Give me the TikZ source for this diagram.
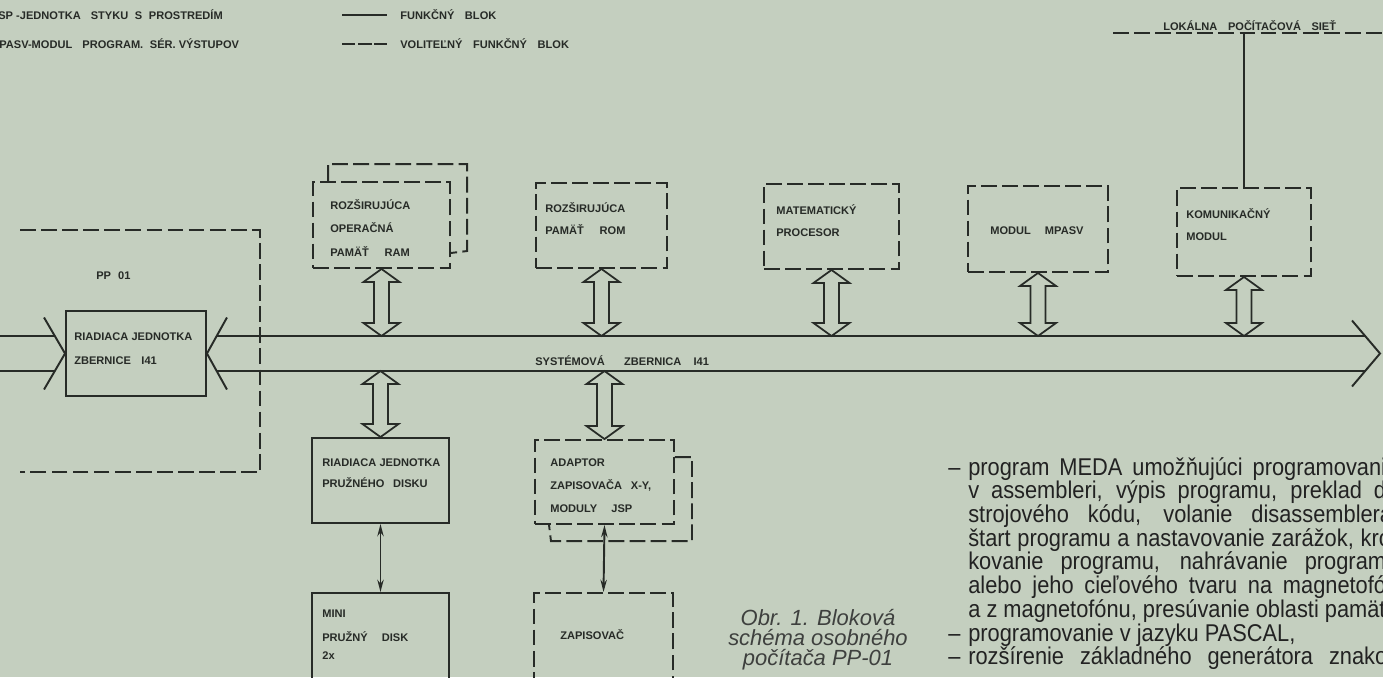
\documentclass[tikz,border=0pt]{standalone}
\usepackage{fontspec}
\usepackage{graphicx}
\setmainfont{Liberation Sans}
\usetikzlibrary{fit,calc,arrows.meta}
\definecolor{bg}{HTML}{C4CFBF}
\definecolor{ink}{HTML}{272B27}
\definecolor{txtc}{HTML}{222222}
\definecolor{capc}{HTML}{3E403E}
\newcommand\gp[1][6]{\hspace{#1pt}}
\newcommand\hollowarrow[2]{%
  \draw[hol] (#1) -- ++(18,13) -- ++(-10.5,0) -- ($(#2)+(7.5,-13)$) -- ++(10.5,0) -- (#2)
    -- ++(-18,-13) -- ++(10.5,0) -- ($(#1)+(-7.5,13)$) -- ++(-10.5,0) -- cycle;}
\begin{document}
\begin{tikzpicture}[x=0.02cm, y=-0.02cm, color=ink,
  sbox/.style={draw=ink, inner sep=0pt, line width=1.1pt},
  dbox/.style={sbox, dash pattern=on 9pt off 3pt},
  dsh/.style={draw=ink, line width=1.1pt, dash pattern=on 9pt off 3pt},
  sol/.style={draw=ink, line width=1.1pt},
  lab/.style={anchor=base west, inner sep=0pt, text=ink, font=\bfseries\fontsize{6.3}{7.5}\selectfont},
  hol/.style={draw=ink, line width=1pt, line join=miter, miter limit=10},
  twoway/.style={draw=ink, line width=1.1pt, {Stealth[length=7pt,width=3.6pt]}-{Stealth[length=7pt,width=3.6pt]}},
  chev/.style={draw=ink, line width=1.1pt, line join=miter, miter limit=10}]
\useasboundingbox (0,0) rectangle (1383,677);
\fill[bg] (0,0) rectangle (1383,677);
\clip (0,0) rectangle (1383,677);

% legend
\node[lab] (lgt1) at (-2,19) {SP -JEDNOTKA\gp[4] STYKU\gp[2] S\gp[2] PROSTREDÍM};
\node[lab] (lgt2) at (-1,48) {PASV-MODUL\gp[4] PROGRAM.\gp[2] SÉR. VÝSTUPOV};
\coordinate (lg1) at (342,15);
\coordinate (lg2) at (342,44);
\draw[sol] (lg1) -- ++(45,0);
\draw[line width=1.1pt, dash pattern=on 7.6pt off 1.6pt] (lg2) -- ++(45,0);
\node[lab] (lgf) at (400,19) {FUNKČNÝ\gp BLOK};
\node[lab] (lgv) at (400,48) {VOLITEĽNÝ\gp FUNKČNÝ\gp BLOK};

% local network
\coordinate (netL) at (1113,33);
\coordinate (netR) at (1390,33);
\draw[dsh] (netL) -- (netR);
\node[lab] (net) at (1163,30) {LOKÁLNA\gp POČÍTAČOVÁ\gp SIEŤ};

% PP 01 outline
\coordinate (pp1) at (20,230);
\coordinate (pp2) at (260,230);
\coordinate (pp3) at (260,472);
\coordinate (pp4) at (20,472);
\draw[dsh] (pp1) -- (pp2) -- (pp3) -- (pp4);
\node[lab] (ppt) at (96,279) {PP\gp[4]01};

% top row boxes
\node[dbox, fit={(313,182) (450,268)}] (ram) {};
\draw[dsh] ($(ram.north west)+(16,0)$) -- ++(0,-17) -- ++(139,0) -- ++(0,87) -- ($(ram.south east)+(0,-16)$);
\node[lab] (ramt1) at (330,209) {ROZŠIRUJÚCA};
\node[lab] (ramt2) at (330,232) {OPERAČNÁ};
\node[lab] (ramt3) at (330,256) {PAMÄŤ\gp[9]RAM};

\node[dbox, fit={(536,183) (667,268)}] (rom) {};
\node[lab] (romt1) at (545,212) {ROZŠIRUJÚCA};
\node[lab] (romt2) at (545,234) {PAMÄŤ\gp[9]ROM};

\node[dbox, fit={(764,184) (899,269)}] (mat) {};
\node[lab] (matt1) at (776,214) {MATEMATICKÝ};
\node[lab] (matt2) at (776,236) {PROCESOR};

\node[dbox, fit={(968,186) (1108,272)}] (mpasv) {};
\node[lab] (mpt) at (990,234) {MODUL\gp[8]MPASV};

\node[dbox, fit={(1177,188) (1311,276)}] (kom) {};
\node[lab] (komt1) at (1186,218) {KOMUNIKAČNÝ};
\node[lab] (komt2) at (1186,240) {MODUL};
\draw[sol] (kom.north |- netL) -- (kom.north);

% bus controller
\node[sbox, fit={(66,311) (206,396)}] (rjz) {};
\node[lab] (rjzt1) at (74,340) {RIADIACA JEDNOTKA};
\node[lab] (rjzt2) at (74,364) {ZBERNICE\gp I41};

% system bus
\coordinate (inL) at (-5,353.5);
\coordinate (tipR) at (1380,353.5);
\coordinate (bt) at (700,336);
\coordinate (bb) at (700,371);
\draw[chev] ($(rjz.west)+(-21,-36)$) -- (rjz.west) -- ($(rjz.west)+(-21,36)$);
\draw[sol] ($(inL)+(0,-17.5)$) -- ($(rjz.west)+(-10.2,-17.5)$);
\draw[sol] ($(inL)+(0,17.5)$) -- ($(rjz.west)+(-10.2,17.5)$);
\draw[chev] ($(rjz.east)+(20,-36)$) -- (rjz.east) -- ($(rjz.east)+(20,36)$);
\draw[sol] ($(rjz.east)+(9.7,-17.5)$) -- ($(tipR)+(-14.8,-17.5)$);
\draw[sol] ($(rjz.east)+(9.7,17.5)$) -- ($(tipR)+(-14.8,17.5)$);
\draw[chev] ($(tipR)+(-28,-33)$) -- (tipR) -- ($(tipR)+(-28,33)$);
\node[lab] (bus) at (535,365) {SYSTÉMOVÁ\gp[11]ZBERNICA\gp[7]I41};

% bottom boxes
\node[sbox, fit={(312,438) (449,523)}] (flop) {};
\node[lab] (flopt1) at (322,466) {RIADIACA JEDNOTKA};
\node[lab] (flopt2) at (322,487) {PRUŽNÉHO\gp[5]DISKU};

\node[sbox, fit={(312,593) (449,700)}] (mini) {};
\node[lab] (minit1) at (322,617) {MINI};
\node[lab] (minit2) at (322,641) {PRUŽNÝ\gp[8]DISK};
\node[lab] (minit3) at (322,659) {2x};

\node[dbox, fit={(535,440) (674,524)}] (adap) {};
\draw[dsh] ($(adap.north east)+(0,18)$) -- ++(17,0) -- ++(0,84) -- ++(-141,0) -- ($(adap.south west)+(15,0)$);
\node[lab] (adapt1) at (550,466) {ADAPTOR};
\node[lab] (adapt2) at (550,489) {ZAPISOVAČA\gp[5]X-Y,};
\node[lab] (adapt3) at (550,512) {MODULY\gp[8]JSP};

\node[dbox, fit={(534,593) (673,700)}] (zap) {};
\node[lab] (zapt) at (560,639) {ZAPISOVAČ};

% hollow bus arrows
\hollowarrow{ram.south}{ram.south |- bt}
\hollowarrow{rom.south}{rom.south |- bt}
\hollowarrow{mat.south}{mat.south |- bt}
\hollowarrow{mpasv.south}{mpasv.south |- bt}
\hollowarrow{kom.south}{kom.south |- bt}
\hollowarrow{flop.north |- bb}{flop.north}
\hollowarrow{adap.north |- bb}{adap.north}

% thin arrows
\draw[twoway] (flop.south) -- (mini.north);
\draw[twoway] (adap.south) -- (zap.north);

% caption
\node[anchor=center, align=center, inner sep=0pt, text=capc,
  font=\itshape\fontsize{12.5}{11.3}\selectfont] (cap) at (818,640)
  {Obr. 1. Bloková\\schéma osobného\\počítača PP-01};

% text block
\node[anchor=base west, inner sep=0pt, text=txtc, font=\fontsize{13.8}{13.5}\selectfont] (txt) at (948,475)
 {\scalebox{0.9}[1]{\parbox[t]{10.4cm}{%
 \makebox[0.444cm][l]{–}\makebox[9.556cm][s]{program MEDA umožňujúci programovanie}\\
 \hspace*{0.444cm}\makebox[9.556cm][s]{v assembleri, výpis programu, preklad do}\\
 \hspace*{0.444cm}\makebox[9.556cm][s]{strojového kódu, volanie disassemblera,}\\
 \hspace*{0.444cm}\makebox[9.556cm][s]{štart programu a nastavovanie zarážok, kro-}\\
 \hspace*{0.444cm}\makebox[9.556cm][s]{kovanie programu, nahrávanie programu}\\
 \hspace*{0.444cm}\makebox[9.556cm][s]{alebo jeho cieľového tvaru na magnetofón}\\
 \hspace*{0.444cm}\mbox{a z magnetofónu, presúvanie oblasti pamäti,}\\
 \makebox[0.444cm][l]{–}\mbox{programovanie v jazyku PASCAL,}\\
 \makebox[0.444cm][l]{–}\makebox[9.556cm][s]{rozšírenie základného generátora znakov}}}};
\end{tikzpicture}
\end{document}
